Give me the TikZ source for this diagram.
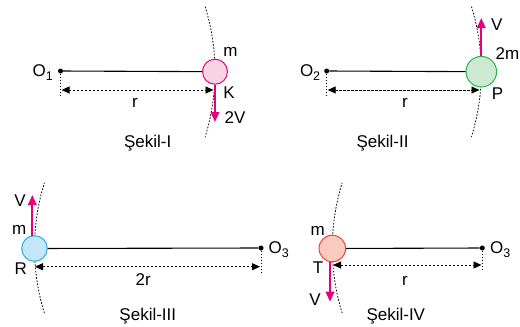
\documentclass[tikz,border=0pt]{standalone}
\usepackage{fontspec}
\setmainfont{Liberation Sans}
\usetikzlibrary{arrows.meta}
\definecolor{mag}{HTML}{E6007E}
\definecolor{pinkF}{HTML}{F8D3E3}
\definecolor{pinkS}{HTML}{E6007E}
\definecolor{greenF}{HTML}{CDE8D3}
\definecolor{greenS}{HTML}{2DB34A}
\definecolor{blueF}{HTML}{C5E6F8}
\definecolor{blueS}{HTML}{2EA9E1}
\definecolor{redF}{HTML}{F9CBBE}
\definecolor{redS}{HTML}{EF4136}
\newcommand\subx[1]{\raisebox{-4pt}{\fontsize{12.5}{12.5}\selectfont #1}}
\begin{document}
\begin{tikzpicture}[x=1pt,y=-1pt,
  lbl/.style={inner sep=0pt, anchor=base, font=\fontsize{17}{19}\selectfont},
  rod/.style={line width=1.1pt},
  orbit/.style={line width=0.8pt, dash pattern=on 1.6pt off 1.6pt},
  dim/.style={line width=0.9pt, dash pattern=on 2.2pt off 1.8pt, {Triangle[length=8pt,width=7pt]}-{Triangle[length=8pt,width=7pt]}},
  guide/.style={line width=0.8pt, dash pattern=on 1.5pt off 1.5pt},
  vel/.style={mag, line width=1.8pt, -{Triangle[length=10pt,width=8.5pt]}},
  ctr/.style={circle, fill=black, inner sep=0pt, minimum size=5pt},
  ball/.style={circle, draw, line width=1pt, inner sep=0pt}]
\path[use as bounding box] (0,0) rectangle (520,327);

% ---------- Sekil-I ----------
\draw[orbit] plot[domain=-17.2:17.2, samples=30, smooth] ({-5+220*cos(\x)},{71.7+220*sin(\x)});
\node[ctr] (O1) at (60.5,71) {};
\node[ball, draw=pinkS, fill=pinkF, minimum size=25pt] (K) at (215,71.7) {};
\draw[rod] (O1) -- (K);
\coordinate (g1) at (60.5,97);
\draw[guide] (O1) -- (g1);
\coordinate (d1a) at (61.5,90);
\coordinate (d1b) at (213.5,90);
\draw[dim] (d1a) -- (d1b);
\coordinate (v1) at (215,122);
\draw[vel] (K.south) -- (v1);
\node[lbl, anchor=base west] (lO1) at (32.5,76.5) {O\subx{1}};
\node[lbl] (lm1) at (230.5,56.7) {m};
\node[lbl] (lK) at (229,98.3) {K};
\node[lbl] (l2V) at (235,123.3) {2V};
\node[lbl] (lr1) at (135,107.3) {r};
\node[lbl] (s1) at (147.7,147.7) {Şekil-I};

% ---------- Sekil-II ----------
\draw[orbit] plot[domain=-17.2:17.2, samples=30, smooth] ({261.3+220*cos(\x)},{71.7+220*sin(\x)});
\node[ctr] (O2) at (326.7,71) {};
\node[ball, draw=greenS, fill=greenF, minimum size=30.6pt] (P) at (481.3,71.7) {};
\draw[rod] (O2) -- (P);
\coordinate (g2) at (326.7,97);
\draw[guide] (O2) -- (g2);
\coordinate (d2a) at (327.7,90);
\coordinate (d2b) at (479.5,90);
\draw[dim] (d2a) -- (d2b);
\coordinate (v2) at (481.3,18);
\draw[vel] (P.north) -- (v2);
\node[lbl, anchor=base west] (lO2) at (299.8,76.5) {O\subx{2}};
\node[lbl] (lV2) at (496.7,30.7) {V};
\node[lbl] (l2m) at (507.5,59) {2m};
\node[lbl] (lP) at (497.5,99.5) {P};
\node[lbl] (lr2) at (405,107.3) {r};
\node[lbl] (s2) at (382.5,147.7) {Şekil-II};

% ---------- Sekil-III ----------
\draw[orbit] plot[domain=162.8:197.2, samples=30, smooth] ({254.5+220*cos(\x)},{248+220*sin(\x)});
\node[ctr] (O3) at (261,248) {};
\node[ball, draw=blueS, fill=blueF, minimum size=25.6pt] (R) at (34.5,248.5) {};
\draw[rod] (R) -- (O3);
\coordinate (g3) at (261,272);
\draw[guide] (O3) -- (g3);
\coordinate (d3a) at (35,266.7);
\coordinate (d3b) at (260,266.7);
\draw[dim] (d3a) -- (d3b);
\coordinate (v3) at (32.3,195);
\draw[vel] ([xshift=-2.2pt,yshift=-0.3pt]R.north) -- (v3);
\node[lbl, anchor=base west] (lO3) at (268.5,253.8) {O\subx{3}};
\node[lbl] (lV3) at (20,206.7) {V};
\node[lbl] (lm3) at (19.3,234.3) {m};
\node[lbl] (lR) at (20.8,274.3) {R};
\node[lbl] (l2r) at (143.3,285) {2r};
\node[lbl] (s3) at (147.8,320) {Şekil-III};

% ---------- Sekil-IV ----------
\draw[orbit] plot[domain=162.8:197.2, samples=30, smooth] ({552.3+220*cos(\x)},{248+220*sin(\x)});
\node[ctr] (O4) at (482.3,248) {};
\node[ball, draw=redS, fill=redF, minimum size=26.6pt] (T) at (332.3,248.5) {};
\draw[rod] (T) -- (O4);
\coordinate (g4) at (482.3,271);
\draw[guide] (O4) -- (g4);
\coordinate (d4a) at (333,265);
\coordinate (d4b) at (481.5,265);
\draw[dim] (d4a) -- (d4b);
\coordinate (v4) at (330,301.7);
\draw[vel] ([xshift=-2.3pt,yshift=0.3pt]T.south) -- (v4);
\node[lbl, anchor=base west] (lO4) at (490,253.3) {O\subx{3}};
\node[lbl] (lm4) at (317.8,235) {m};
\node[lbl] (lT) at (318,273.3) {T};
\node[lbl] (lV4) at (315,305) {V};
\node[lbl] (lr4) at (405,285) {r};
\node[lbl] (s4) at (395.8,320) {Şekil-IV};
\end{tikzpicture}
\end{document}
